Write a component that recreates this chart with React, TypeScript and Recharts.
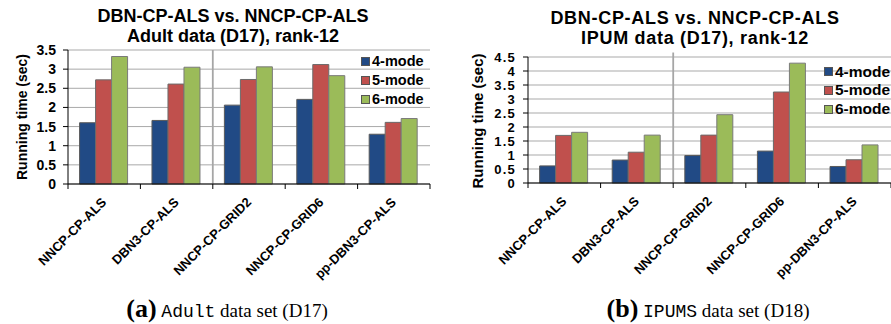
import React from 'react';
import { BarChart, Bar, XAxis, YAxis, CartesianGrid, Legend, ReferenceLine } from 'recharts';

const categories = ['NNCP-CP-ALS', 'DBN3-CP-ALS', 'NNCP-CP-GRID2', 'NNCP-CP-GRID6', 'pp-DBN3-CP-ALS'];
const seriesNames = ['4-mode', '5-mode', '6-mode'];
const adult4 = [1.6, 1.66, 2.06, 2.21, 1.3];
const adult5 = [2.72, 2.61, 2.73, 3.12, 1.61];
const adult6 = [3.33, 3.05, 3.06, 2.83, 1.71];
const ipum4 = [0.61, 0.82, 0.98, 1.14, 0.59];
const ipum5 = [1.7, 1.1, 1.71, 3.25, 0.83];
const ipum6 = [1.81, 1.71, 2.44, 4.28, 1.36];
const adultTicks = [0, 0.5, 1, 1.5, 2, 2.5, 3, 3.5];
const ipumTicks = [0, 0.5, 1, 1.5, 2, 2.5, 3, 3.5, 4, 4.5];
const separatorAt = 'NNCP-CP-GRID2';

const COLORS = ['#214a85', '#c0504d', '#9bbb59'];
const FONT = '"Liberation Sans", Arial, sans-serif';

const build = (a: number[], b: number[], c: number[]) =>
  categories.map((name, i) => ({ name, m4: a[i], m5: b[i], m6: c[i] }));

const adultData = build(adult4, adult5, adult6);
const ipumData = build(ipum4, ipum5, ipum6);

const makeTick = (bw: number, fontSize: number) => (props: any) => {
  const { x, y, payload, index, visibleTicksCount } = props;
  const ax = x + 3;
  const ay = y + 19;
  const bx = x - bw / 2;
  return (
    <g>
      <line x1={bx} y1={y} x2={bx} y2={y + 5} stroke="#000" />
      {index === visibleTicksCount - 1 && (
        <line x1={x + bw / 2} y1={y} x2={x + bw / 2} y2={y + 5} stroke="#000" />
      )}
      <text
        x={ax}
        y={ay}
        textAnchor="end"
        transform={`rotate(-45 ${ax} ${ay})`}
        fontFamily={FONT}
        fontWeight="bold"
        fontSize={fontSize}
        fill="#000"
      >
        {payload.value}
      </text>
    </g>
  );
};

const makeLegend = (fontSize: number, rowH: number) => (props: any) => {
  const items = props.payload || [];
  return (
    <div style={{ fontFamily: FONT, fontWeight: 'bold', fontSize, color: '#000' }}>
      {items.map((it: any) => (
        <div key={it.value} style={{ display: 'flex', alignItems: 'center', height: rowH, lineHeight: rowH + 'px' }}>
          <span
            style={{
              display: 'inline-block',
              width: 7,
              height: 7,
              background: it.color,
              border: '1px solid #555',
              marginRight: 2,
            }}
          />
          <span>{it.value}</span>
        </div>
      ))}
    </div>
  );
};

type PanelProps = {
  data: any[];
  ticks: number[];
  max: number;
  width: number;
  height: number;
  top: number;
  right: number;
  yWidth: number;
  xHeight: number;
  bw: number;
  tickFont: number;
  tickSpacing: number;
  labelFont: number;
  labelX: number;
  labelY: number;
  legendLeft: number;
  legendTop: number;
  legendFont: number;
  legendRow: number;
  sepTop: number;
};

const Panel = (p: PanelProps) => (
  <BarChart
    width={p.width}
    height={p.height}
    data={p.data}
    margin={{ top: p.top, right: p.right, bottom: 0, left: 0 }}
    barCategoryGap="16%"
    barGap={0}
    style={{ overflow: 'visible' }}
  >
    <CartesianGrid vertical={false} stroke="#a9a9a9" />
    <XAxis
      dataKey="name"
      height={p.xHeight}
      interval={0}
      tickLine={false}
      tickSize={0}
      tickMargin={0}
      axisLine={{ stroke: '#000' }}
      tick={makeTick(p.bw, 13)}
    />
    <YAxis
      width={p.yWidth}
      domain={[0, p.max]}
      ticks={p.ticks}
      interval={0}
      tickSize={5}
      tickMargin={7}
      axisLine={{ stroke: '#000' }}
      tickLine={{ stroke: '#000' }}
      tick={{ fontFamily: FONT, fontWeight: 'bold', fontSize: p.tickFont, letterSpacing: p.tickSpacing, fill: '#000' }}
      label={() => (
        <text
          x={p.labelX}
          y={p.labelY}
          textAnchor="middle"
          transform={`rotate(-90 ${p.labelX} ${p.labelY})`}
          fontFamily={FONT}
          fontWeight="bold"
          fontSize={p.labelFont}
          fill="#000"
        >
          Running time (sec)
        </text>
      )}
    />
    <ReferenceLine
      segment={[{ x: separatorAt, y: 0 }, { x: separatorAt, y: p.sepTop }]}
      position="start"
      ifOverflow="visible"
      stroke="#a6a6a6"
      strokeWidth={1.8}
    />
    <Legend
      layout="vertical"
      align="center"
      verticalAlign="middle"
      wrapperStyle={{ left: p.legendLeft, top: p.legendTop, width: 'auto' }}
      content={makeLegend(p.legendFont, p.legendRow)}
    />
    <Bar dataKey="m4" name={seriesNames[0]} fill={COLORS[0]} stroke="#5a5a5a" isAnimationActive={false} />
    <Bar dataKey="m5" name={seriesNames[1]} fill={COLORS[1]} stroke="#6a6a6a" isAnimationActive={false} />
    <Bar dataKey="m6" name={seriesNames[2]} fill={COLORS[2]} stroke="#7a7a7a" isAnimationActive={false} />
  </BarChart>
);

const titleStyle: React.CSSProperties = {
  position: 'absolute',
  fontFamily: FONT,
  fontWeight: 'bold',
  fontSize: 18,
  lineHeight: '19.5px',
  textAlign: 'center',
  whiteSpace: 'nowrap',
  color: '#000',
  transform: 'translateX(-50%)',
};

const captionStyle: React.CSSProperties = {
  position: 'absolute',
  top: 295,
  whiteSpace: 'nowrap',
  transform: 'translateX(-50%)',
  fontFamily: '"Liberation Serif", "Times New Roman", serif',
  fontSize: 19,
  lineHeight: '28px',
  color: '#000',
};

export default function App() {
  return (
    <div
      style={{
        position: 'absolute',
        left: 0,
        top: 0,
        width: 891,
        height: 324,
        overflow: 'hidden',
        background: '#fff',
      }}
    >
      <div style={{ position: 'absolute', left: 0, top: 0 }}>
        <Panel
          data={adultData}
          ticks={adultTicks}
          max={3.5}
          width={445}
          height={300}
          top={50}
          right={15}
          yWidth={68}
          xHeight={116}
          bw={362 / 5}
          tickFont={14}
          tickSpacing={0}
          labelFont={14}
          labelX={27}
          labelY={117}
          legendLeft={361}
          legendTop={51.5}
          legendFont={14.5}
          legendRow={19}
          sepTop={3.5}
        />
      </div>
      <div style={{ position: 'absolute', left: 445, top: 0 }}>
        <Panel
          data={ipumData}
          ticks={ipumTicks}
          max={4.5}
          width={446}
          height={300}
          top={57}
          right={0}
          yWidth={83}
          xHeight={117}
          bw={363 / 5}
          tickFont={13}
          tickSpacing={1.2}
          labelFont={15}
          labelX={38}
          labelY={121}
          legendLeft={379}
          legendTop={62.5}
          legendFont={15.5}
          legendRow={18.7}
          sepTop={4.66}
        />
      </div>
      <div style={{ ...titleStyle, left: 233, top: 7 }}>
        DBN-CP-ALS vs. NNCP-CP-ALS
        <br />
        Adult data (D17), rank-12
      </div>
      <div style={{ ...titleStyle, left: 695, top: 9, letterSpacing: 0.7 }}>
        DBN-CP-ALS vs. NNCP-CP-ALS
        <br />
        IPUM data (D17), rank-12
      </div>
      <div style={{ ...captionStyle, left: 227 }}>
        <b style={{ fontSize: 26 }}>(a)</b>{' '}
        <span style={{ fontFamily: '"Liberation Mono", "Courier New", monospace', fontSize: 18 }}>Adult</span> data set (D17)
      </div>
      <div style={{ ...captionStyle, left: 708 }}>
        <b style={{ fontSize: 26 }}>(b)</b>{' '}
        <span style={{ fontFamily: '"Liberation Mono", "Courier New", monospace', fontSize: 18 }}>IPUMS</span> data set (D18)
      </div>
    </div>
  );
}
